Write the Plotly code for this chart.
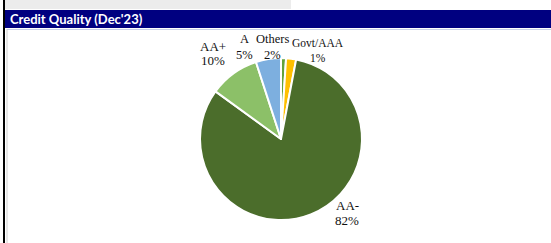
import plotly.graph_objects as go

# ---- data ----
categories = ["Govt/AAA", "Others", "AA-", "AA+", "A"]
values = [1, 2, 82, 10, 5]
colors = ["#62A23C", "#FFC000", "#4B6D2B", "#8CC068", "#7DAFDF"]
title_text = "Credit Quality (Dec'23)"

W, H = 551, 243

def px(x):
    return x / W

def py(y):
    return 1 - y / H

# pie placement (pixels)
cx, cy, r = 281, 139, 81

fig = go.Figure()
fig.add_trace(go.Pie(
    labels=categories,
    values=values,
    sort=False,
    direction="clockwise",
    rotation=0,
    marker=dict(colors=colors, line=dict(color="white", width=2)),
    textinfo="none",
    hoverinfo="label+percent",
    domain=dict(x=[px(cx - r), px(cx + r)], y=[py(cy + r), py(cy - r)]),
    showlegend=False,
))

# label positions (pixel centers: name line, value line) and font sizes
label_pos = {
    "AA-": (347, 205, 220, 13),
    "AA+": (213, 46, 60, 13),
    "A": (244, 39, 55, 12.5),
    "Others": (272, 39, 55, 12.5),
    "Govt/AAA": (318, 43, 58, 11.5),
}
for cat, val in zip(categories, values):
    x, y1, y2, fs = label_pos[cat]
    for t, yy in ((cat, y1), (f"{val}%", y2)):
        fig.add_annotation(
            x=px(x), y=py(yy), xref="paper", yref="paper",
            text=t, showarrow=False, xanchor="center", yanchor="middle",
            font=dict(family="Liberation Serif", size=fs, color="#111111"),
        )

shapes = [
    # light gray top strip
    dict(type="rect", x0=px(5), x1=px(291), y0=py(9), y1=py(0), fillcolor="#ECECEC", line=dict(width=0)),
    # navy header
    dict(type="rect", x0=px(5), x1=px(W), y0=py(28), y1=py(10), fillcolor="#000080", line=dict(width=0)),
    # faint line below header
    dict(type="line", x0=px(7), x1=px(W), y0=py(29.5), y1=py(29.5), line=dict(color="#C8D0E8", width=1)),
    # black left border
    dict(type="rect", x0=px(3), x1=px(5), y0=py(H), y1=py(0), fillcolor="#000000", line=dict(width=0)),
    # gray inner left line
    dict(type="line", x0=px(7), x1=px(7), y0=py(29), y1=py(H), line=dict(color="#D0D0D0", width=1)),
]

fig.add_annotation(
    x=px(8), y=py(19), xref="paper", yref="paper",
    text=f"<b>{title_text}</b>", showarrow=False, xanchor="left", yanchor="middle",
    font=dict(family="Lato", size=13, color="white"),
)

fig.update_layout(
    width=W, height=H,
    margin=dict(l=0, r=0, t=0, b=0),
    paper_bgcolor="white",
    plot_bgcolor="white",
    shapes=shapes,
)

fig.write_html(
    "out.html",
    config={"displayModeBar": False},
    post_script="document.body.style.margin='0';document.body.style.padding='0';",
)
